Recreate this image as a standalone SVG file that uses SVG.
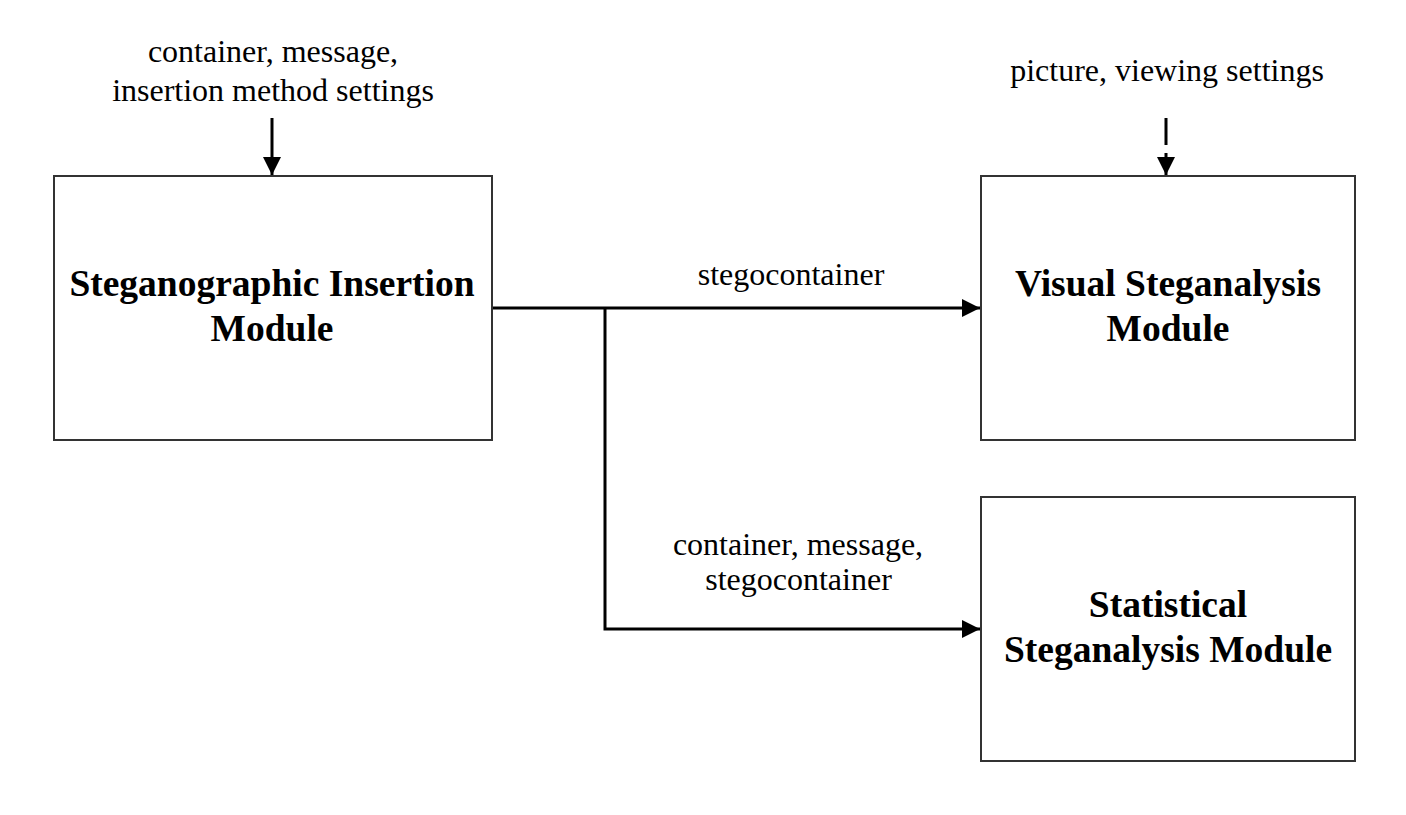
<svg xmlns="http://www.w3.org/2000/svg" width="1406" height="815" viewBox="0 0 1406 815">
<style>
.box{fill:#fff;stroke:#333;stroke-width:2}
.title{font-family:"Liberation Serif",serif;font-weight:bold;font-size:37.5px;text-anchor:middle;fill:#000}
.lbl{font-family:"Liberation Serif",serif;font-size:32px;text-anchor:middle;fill:#000}
.ln{fill:none;stroke:#000;stroke-width:3}
</style>
<defs>
<marker id="ah" viewBox="0 0 10 10" refX="10" refY="5" markerWidth="6" markerHeight="6" markerUnits="strokeWidth" orient="auto">
<path d="M0,0 L10,5 L0,10 z" fill="#000"/>
</marker>
</defs>
<rect width="1406" height="815" fill="#fff"/>
<g id="connectors">
<line class="ln" x1="272" y1="118" x2="272" y2="175" marker-end="url(#ah)"/>
<line class="ln" x1="1166" y1="118" x2="1166" y2="175" stroke-dasharray="27,8" marker-end="url(#ah)"/>
<polyline class="ln" points="492,308 980,308" marker-end="url(#ah)"/>
<polyline class="ln" points="605,308 605,629 980,629" marker-end="url(#ah)"/>
</g>
<g id="labels">
<text class="lbl" x="273" y="62">container, message,</text>
<text class="lbl" x="273" y="101">insertion method settings</text>
<text class="lbl" x="1167" y="81">picture, viewing settings</text>
<text class="lbl" x="791" y="285">stegocontainer</text>
<text class="lbl" x="798" y="555">container, message,</text>
<text class="lbl" x="798.5" y="590">stegocontainer</text>
</g>
<g id="insertion">
<rect class="box" x="54" y="176" width="438" height="264"/>
<text class="title" x="272" y="296">Steganographic Insertion</text>
<text class="title" x="272" y="341">Module</text>
</g>
<g id="visual">
<rect class="box" x="981" y="176" width="374" height="264"/>
<text class="title" x="1168" y="296">Visual Steganalysis</text>
<text class="title" x="1168" y="341">Module</text>
</g>
<g id="statistical">
<rect class="box" x="981" y="497" width="374" height="264"/>
<text class="title" x="1168" y="617">Statistical</text>
<text class="title" x="1168" y="662">Steganalysis Module</text>
</g>
</svg>
